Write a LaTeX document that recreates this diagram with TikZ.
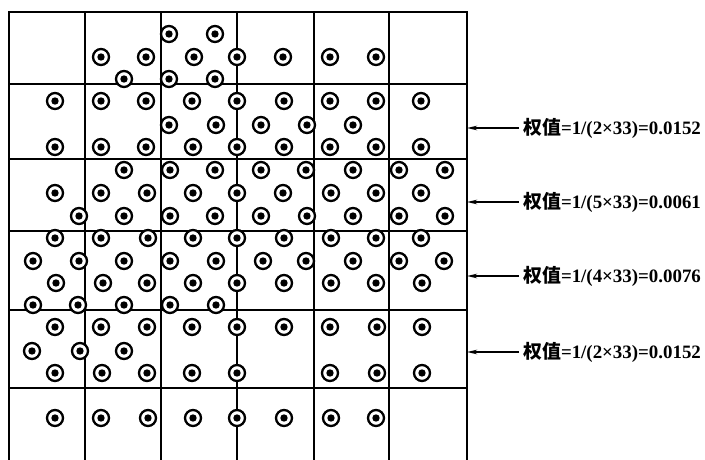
\documentclass[tikz,border=0pt]{standalone}
\usepackage{fontspec}
\setmainfont{Liberation Serif}
\newfontfamily\cjk{Noto Sans CJK SC}
\usetikzlibrary{arrows.meta}
\tikzset{
  ring/.style={circle, draw, line width=2.3pt, fill=white, minimum size=16pt, inner sep=0pt},
  gridline/.style={line width=2.1pt},
  border/.style={line width=2.8pt},
  weightarrow/.style={line width=1.7pt, -{Stealth[length=10pt,width=4.5pt]}},
  wlabel/.style={anchor=west, inner sep=0pt, font=\fontsize{18.9}{22}\selectfont\bfseries}
}
\begin{document}
\begin{tikzpicture}[x=1pt,y=-1pt]
\useasboundingbox (0,0) rectangle (705,460);
% grid
\foreach \x in {85,161,237,314,389}
  \draw[gridline] (\x,12) -- (\x,460);
\foreach \y in {84,159,231,310,388}
  \draw[gridline] (9,\y) -- (467,\y);
\draw[border] (9,460) -- (9,12) -- (467,12) -- (467,460);
% circles
\newcommand{\ringrow}[2]{%
  \foreach \x in {#2} {
    \node[ring] (c-\x-#1) at (\x,#1) {};
    \fill (c-\x-#1.center) circle[radius=3.7pt];
  }}
\ringrow{57}{101,146,194,237,283,330,376}
\ringrow{79}{124,169,215}
\ringrow{34}{169,215}
\ringrow{101}{55,101,146,192,237,284,330,376,421}
\ringrow{125}{169,216,261,307,353}
\ringrow{147}{55,101,146,193,237,284,330,376,421}
\ringrow{170}{124,170,215,261,306,353,399,445}
\ringrow{193}{55,101,147,193,237,283,331,376,421}
\ringrow{216}{79,124,170,215,261,307,353,399,445}
\ringrow{238}{55,101,148,193,237,284,331,376,421}
\ringrow{261}{33,79,124,170,216,263,306,353,399,444}
\ringrow{283}{56,103,147,193,237,284,331,376,422}
\ringrow{305}{33,78,124,170,216}
\ringrow{327}{55,101,147,192,237,284,330,377,422}
\ringrow{351}{32,80,124}
\ringrow{373}{55,102,147,192,237,330,377,422}
\ringrow{418}{55,101,148,193,237,284,331,376}
% weights
\coordinate (e1) at (467,128);
\coordinate (e2) at (467,202);
\coordinate (e3) at (467,276);
\coordinate (e4) at (467,352);
\node[wlabel] (l1) at (523,128) {{\cjk 权值}=1/(2×33)=0.0152};
\node[wlabel] (l2) at (523,202) {{\cjk 权值}=1/(5×33)=0.0061};
\node[wlabel] (l3) at (523,276) {{\cjk 权值}=1/(4×33)=0.0076};
\node[wlabel] (l4) at (523,352) {{\cjk 权值}=1/(2×33)=0.0152};
\foreach \i in {1,2,3,4}
  \draw[weightarrow] ([xshift=-4pt]l\i.west) -- (e\i);
\end{tikzpicture}
\end{document}
